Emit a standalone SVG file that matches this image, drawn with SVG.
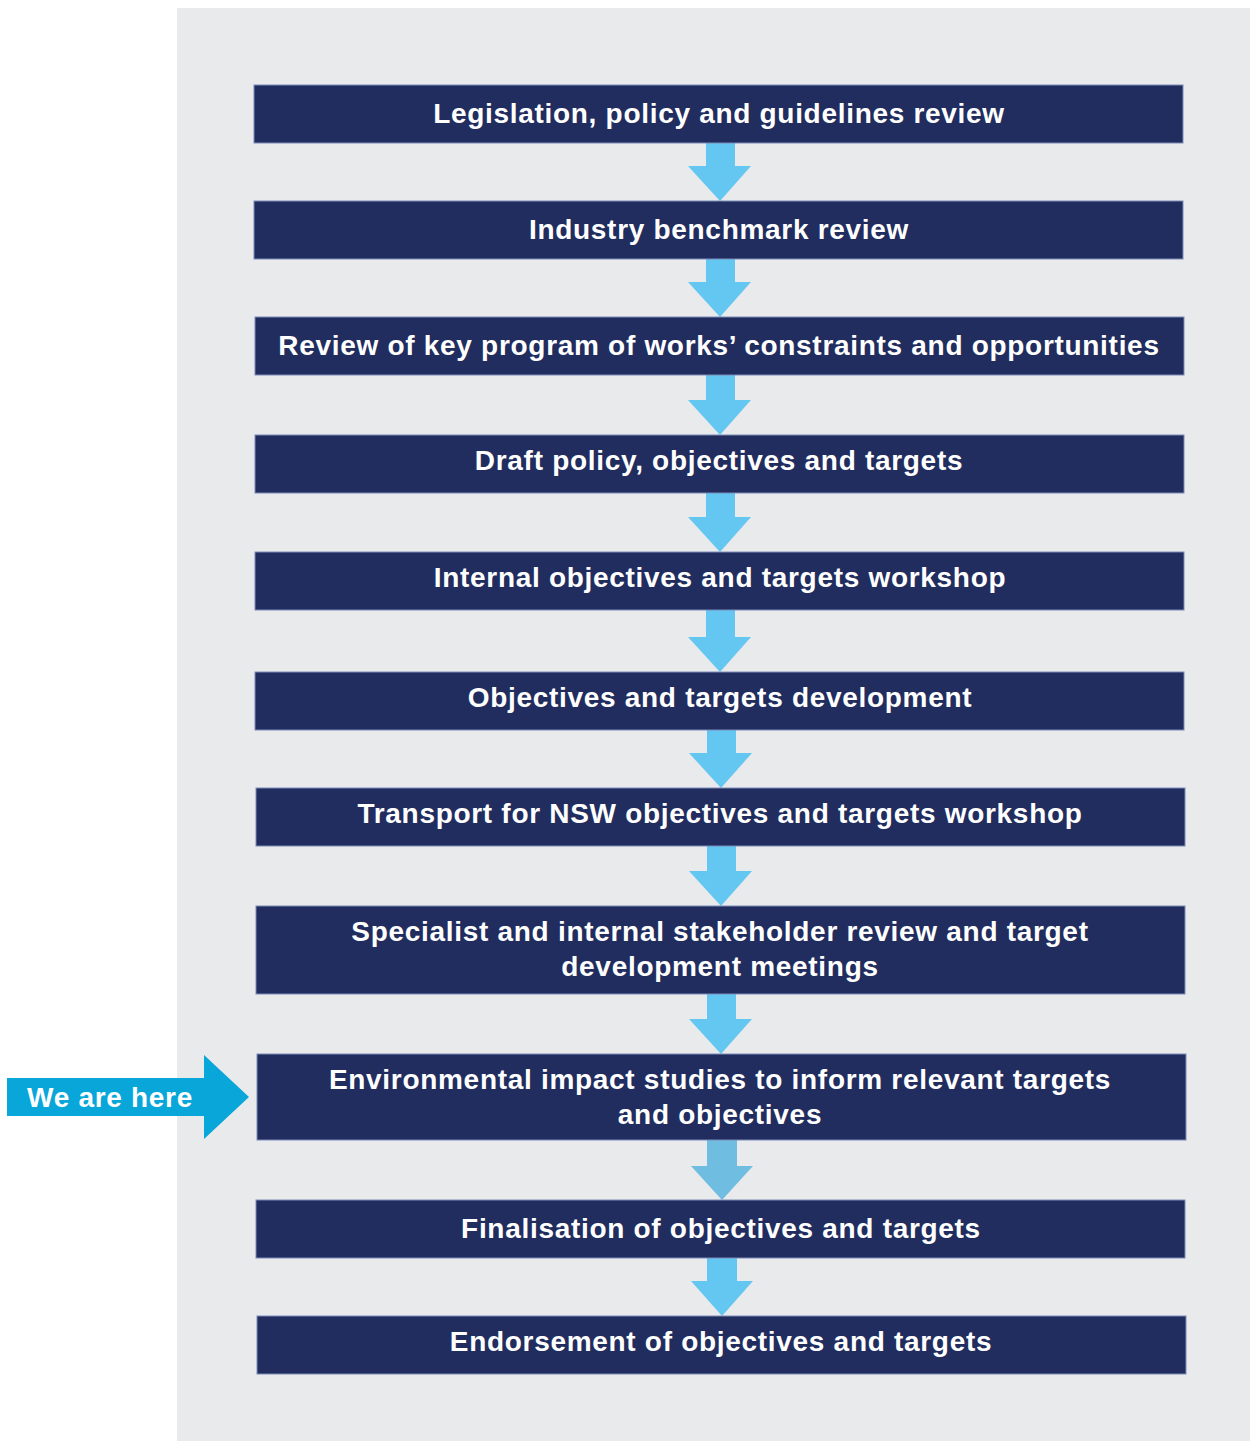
<svg xmlns="http://www.w3.org/2000/svg" width="1250" height="1441" viewBox="0 0 1250 1441">
<style>
.box{fill:#212d5e;stroke:#7d8cb8;stroke-width:1}
.t{font-family:"Liberation Sans",Arial,sans-serif;font-weight:bold;font-size:28px;fill:#ffffff;text-anchor:middle;letter-spacing:0.7px}
.a{fill:#63c7f2}
</style>
<rect x="0" y="0" width="1250" height="1441" fill="#ffffff"/>
<rect x="177" y="8" width="1073" height="1433" fill="#e9eaec"/>
<g id="connectors">
<polygon class="a" points="706,143 735,143 735,166 751,166 720,201 688,166 706,166"/>
<polygon class="a" points="706,259 735,259 735,282 751,282 720,317 688,282 706,282"/>
<polygon class="a" points="706,375 735,375 735,400 751,400 720,435 688,400 706,400"/>
<polygon class="a" points="706,493 735,493 735,517 751,517 720,552 688,517 706,517"/>
<polygon class="a" points="706,610 735,610 735,637 751,637 720,672 688,637 706,637"/>
<polygon class="a" points="707,730 736,730 736,753 752,753 721,788 689,753 707,753"/>
<polygon class="a" points="707,846 736,846 736,871 752,871 721,906 689,871 707,871"/>
<polygon class="a" points="707,994 736,994 736,1019 752,1019 721,1054 689,1019 707,1019"/>
<polygon fill="#6fbde0" points="707,1140 737,1140 737,1166 753,1166 722,1200 691,1166 707,1166"/>
<polygon class="a" points="707,1258 737,1258 737,1281 753,1281 722,1316 691,1281 707,1281"/>
<polygon id="here-arrow" fill="#09a6da" points="7,1078 204,1078 204,1055 249,1097 204,1139 204,1116 7,1116"/>
</g>
<text class="t" x="110" y="1107">We are here</text>
<g id="n1"><rect class="box" x="254" y="85" width="929" height="58"/><text class="t" x="719" y="123">Legislation, policy and guidelines review</text></g>
<g id="n2"><rect class="box" x="254" y="201" width="929" height="58"/><text class="t" x="719" y="239">Industry benchmark review</text></g>
<g id="n3"><rect class="box" x="255" y="317" width="929" height="58"/><text class="t" x="719" y="355">Review of key program of works’ constraints and opportunities</text></g>
<g id="n4"><rect class="box" x="255" y="435" width="929" height="58"/><text class="t" x="719" y="470">Draft policy, objectives and targets</text></g>
<g id="n5"><rect class="box" x="255" y="552" width="929" height="58"/><text class="t" x="720" y="587">Internal objectives and targets workshop</text></g>
<g id="n6"><rect class="box" x="255" y="672" width="929" height="58"/><text class="t" x="720" y="707">Objectives and targets development</text></g>
<g id="n7"><rect class="box" x="256" y="788" width="929" height="58"/><text class="t" x="720" y="823">Transport for NSW objectives and targets workshop</text></g>
<g id="n8"><rect class="box" x="256" y="906" width="929" height="88"/><text class="t" x="720" y="941">Specialist and internal stakeholder review and target</text><text class="t" x="720" y="976">development meetings</text></g>
<g id="n9"><rect class="box" x="257" y="1054" width="929" height="86"/><text class="t" x="720" y="1089">Environmental impact studies to inform relevant targets</text><text class="t" x="720" y="1124">and objectives</text></g>
<g id="n10"><rect class="box" x="256" y="1200" width="929" height="58"/><text class="t" x="721" y="1238">Finalisation of objectives and targets</text></g>
<g id="n11"><rect class="box" x="257" y="1316" width="929" height="58"/><text class="t" x="721" y="1351">Endorsement of objectives and targets</text></g>
</svg>
